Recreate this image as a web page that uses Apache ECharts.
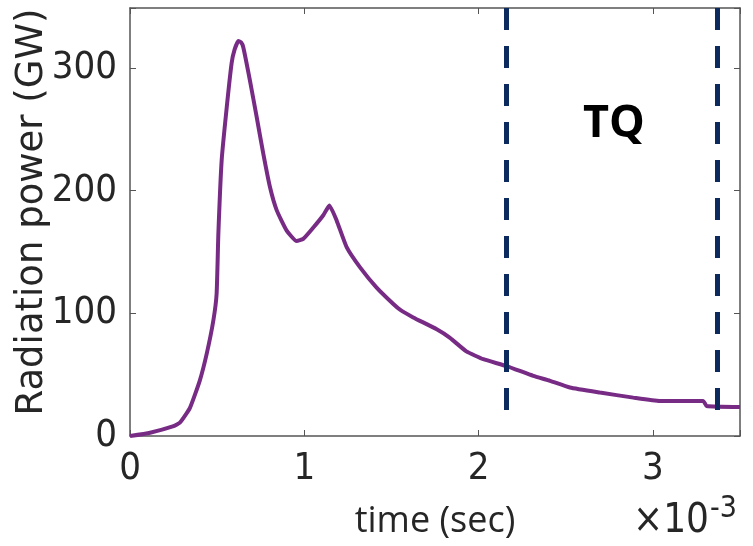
<!DOCTYPE html>
<html>
<head>
<meta charset="utf-8">
<script src="https://cdn.jsdelivr.net/npm/echarts@6/dist/echarts.min.js"></script>
<style>
html,body{margin:0;padding:0;background:#fff;}
#chart{width:753px;height:546px;}
</style>
</head>
<body>
<div id="chart"></div>
<script>
// time in units of 1e-3 s
var timeMs = [0, 0.115, 0.25, 0.287, 0.344, 0.40, 0.44, 0.478, 0.497, 0.507, 0.526, 0.555, 0.583, 0.60, 0.622, 0.637, 0.65, 0.688, 0.727, 0.765, 0.803, 0.842, 0.899, 0.956, 0.994, 1.052, 1.109, 1.144, 1.186, 1.243, 1.32, 1.415, 1.511, 1.549, 1.625, 1.76, 1.836, 1.93, 2.027, 2.161, 2.314, 2.41, 2.524, 2.696, 2.888, 3.04, 3.289, 3.308, 3.5];
// radiation power in GW
var powerGW = [0, 2.7, 8, 11, 23, 45, 67, 94, 116, 165, 225, 268, 304, 315, 322, 321, 317, 290, 260, 230, 203, 184, 167.5, 159, 160.7, 170, 180, 188, 175.6, 154, 137.5, 121, 107.6, 103, 96.7, 87, 80, 69, 62.6, 57, 49, 45, 39.5, 35.4, 31.3, 28.6, 28.6, 24.5, 23.7];
// TQ phase boundaries (1e-3 s)
var tqBounds = [2.16, 3.37];
var xTicks = [0, 1, 2, 3];
var yTicks = [0, 100, 200, 300];

var narrow = '"Liberation Sans Narrow", "DejaVu Sans Condensed", sans-serif';
var axisColor = '#555555';
var textColor = '#262626';

var points = timeMs.map(function (t, i) { return [t, powerGW[i]]; });
var dashed = tqBounds.map(function (x) {
  return [{ coord: [x, 349] }, { coord: [x, 19] }];
});

var chart = echarts.init(document.getElementById('chart'));
chart.setOption({
  animation: false,
  backgroundColor: '#ffffff',
  grid: { left: 130, right: 13, top: 8, bottom: 110, containLabel: false, outerBoundsMode: 'none' },
  xAxis: [{
    type: 'value', min: 0, max: 3.5, interval: 1,
    axisLine: { show: true, onZero: false, lineStyle: { color: axisColor, width: 1.5 } },
    axisTick: { show: true, inside: true, length: 6, lineStyle: { color: axisColor } },
    splitLine: { show: false },
    axisLabel: { fontFamily: narrow, fontSize: 38, color: textColor, margin: 14,
      formatter: function (v) { return xTicks.indexOf(v) >= 0 ? String(v) : ''; } },
    name: 'time (sec)', nameLocation: 'middle', nameGap: 68,
    nameTextStyle: { fontFamily: '"Open Sans", sans-serif', fontSize: 36, color: textColor }
  }, {
    type: 'value', position: 'top', min: 0, max: 3.5, interval: 1,
    axisLine: { show: true, onZero: false, lineStyle: { color: axisColor, width: 1.5 } },
    axisTick: { show: true, inside: true, length: 6, lineStyle: { color: axisColor } },
    axisLabel: { show: false }, splitLine: { show: false }
  }],
  yAxis: [{
    type: 'value', min: 0, max: 349, interval: 100,
    axisLine: { show: true, onZero: false, lineStyle: { color: axisColor, width: 1.5 } },
    axisTick: { show: true, inside: true, length: 6, lineStyle: { color: axisColor } },
    splitLine: { show: false },
    axisLabel: { fontFamily: narrow, fontSize: 38, color: textColor, margin: 13,
      formatter: function (v) { return yTicks.indexOf(v) >= 0 ? String(v) : ''; } }
  }, {
    type: 'value', position: 'right', min: 0, max: 349, interval: 100,
    axisLine: { show: true, onZero: false, lineStyle: { color: axisColor, width: 1.5 } },
    axisTick: { show: true, inside: true, length: 6, lineStyle: { color: axisColor } },
    axisLabel: { show: false }, splitLine: { show: false }
  }],
  series: [{
    type: 'line',
    data: points,
    showSymbol: false,
    smooth: 0.15,
    lineStyle: { color: '#772b85', width: 4 },
    z: 3,
    markLine: {
      silent: true,
      symbol: ['none', 'none'],
      label: { show: false },
      lineStyle: { color: '#0c2a5e', width: 5, type: [22, 16] },
      data: dashed
    }
  }],
  graphic: [
    { type: 'text', x: 32, y: 212, rotation: Math.PI / 2, z: 10,
      style: { text: 'Radiation power (GW)', fontFamily: '"DejaVu Sans", sans-serif', fontSize: 37,
        fill: textColor, align: 'center', verticalAlign: 'middle' } },
    { type: 'text', left: 583, top: 102, z: 10,
      style: { text: 'TQ', fontFamily: '"Open Sans", sans-serif', fontWeight: 'bold', fontSize: 45, fill: '#000000' } },
    { type: 'text', right: 44, top: 502, z: 10,
      style: { text: '×10', fontFamily: narrow, fontSize: 40, fill: textColor } },
    { type: 'text', right: 16, top: 494, z: 10,
      style: { text: '-3', fontFamily: narrow, fontSize: 30, fill: textColor } }
  ]
});
</script>
</body>
</html>
